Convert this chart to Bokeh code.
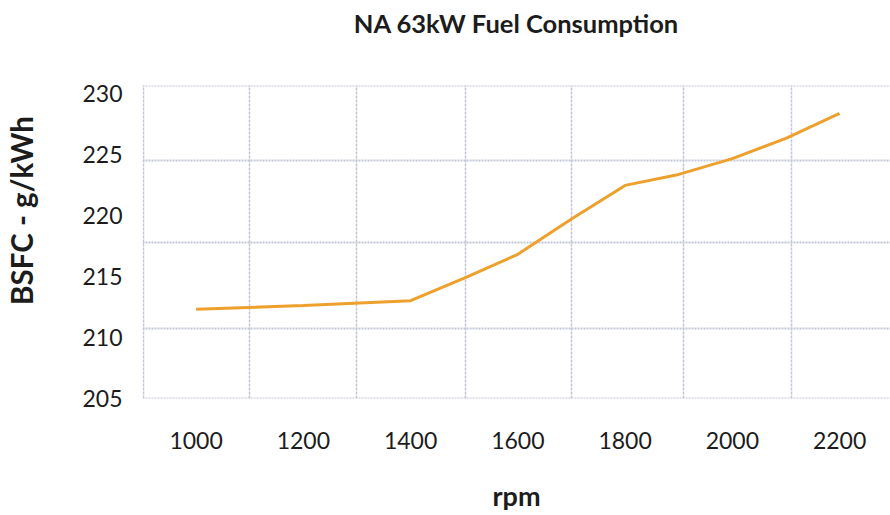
import math
from bokeh.plotting import figure
from bokeh.models import FixedTicker, Range1d, LinearAxis
from bokeh.embed import file_html
from bokeh.resources import INLINE

# ---- data ----
rpm = [1000, 1200, 1400, 1500, 1600, 1700, 1800, 1900, 2000, 2100, 2200]
bsfc = [212.3, 212.6, 213.0, 214.85, 216.8, 219.7, 222.45, 223.35, 224.65, 226.3, 228.35]
x_ticks = [1000, 1200, 1400, 1600, 1800, 2000, 2200]
x_tick_labels = ["1000", "1200", "1400", "1600", "1800", "2000", "2200"]
y_ticks = [205, 210, 215, 220, 225, 230]
y_tick_labels = ["205", "210", "215", "220", "225", "230"]

title_text = "NA 63kW Fuel Consumption"
x_label = "rpm"
y_label = "BSFC - g/kWh"

# ---- styling / layout ----
W, H = 890, 515
LEFT, TOP, BOTTOM = 142, 85, 117
X_RANGE = (900.0, 2295.0)
Y_RANGE = (204.98, 230.64)
X_GRID = [901.5, 1099, 1300, 1503, 1700, 1909, 2110]
Y_GRID = [205.02, 210.7, 217.8, 224.46, 230.6]
YLABEL_CENTER_PY = 210          # vertical centre of the y title, in pixels
GRID_COLOR = "#c3c6d4"
LINE_COLOR = "#eda12c"
TEXT_COLOR = "#1c1c1c"
FONT = "Lato"

p = figure(width=W, height=H, output_backend="svg", toolbar_location=None,
           x_range=Range1d(*X_RANGE), y_range=Range1d(*Y_RANGE),
           min_border_left=LEFT, min_border_right=0, min_border_top=TOP,
           min_border_bottom=BOTTOM)
p.outline_line_color = None
p.background_fill_color = "white"
p.border_fill_color = "white"

frame_h = H - TOP - BOTTOM
ylabel_pos = round(Y_RANGE[1] - (YLABEL_CENTER_PY - TOP) * (Y_RANGE[1] - Y_RANGE[0]) / frame_h, 2)

def plain(ax):
    ax.axis_line_color = None
    ax.major_tick_line_color = None
    ax.minor_tick_line_color = None
    ax.major_tick_in = 0
    ax.major_tick_out = 0
    ax.minor_tick_in = 0
    ax.minor_tick_out = 0

p.xaxis.ticker = FixedTicker(ticks=x_ticks)
p.xaxis.major_label_overrides = {t: l for t, l in zip(x_ticks, x_tick_labels)}
p.yaxis.ticker = FixedTicker(ticks=y_ticks)
p.yaxis.major_label_overrides = {t: l for t, l in zip(y_ticks, y_tick_labels)}

for ax in (p.xaxis[0], p.yaxis[0]):
    plain(ax)
    ax.major_label_text_font = FONT
    ax.major_label_text_font_size = "23px"
    ax.major_label_text_color = TEXT_COLOR
    ax.axis_label_text_font = FONT
    ax.axis_label_text_font_style = "bold"
    ax.axis_label_text_font_size = "27px"
    ax.axis_label_text_color = TEXT_COLOR

p.xaxis.major_label_standoff = 33
p.xaxis.axis_label = x_label
p.xaxis.axis_label_standoff = 27
p.yaxis.major_label_standoff = 20

# chart title, set as the label of a tick-less axis above the plot
top_axis = LinearAxis(ticker=FixedTicker(ticks=[]), axis_label=title_text)
plain(top_axis)
top_axis.major_label_standoff = 0
top_axis.axis_label_standoff = 48
top_axis.axis_label_text_line_height = 1.0
top_axis.axis_label_text_font = FONT
top_axis.axis_label_text_font_style = "bold"
top_axis.axis_label_text_font_size = "25.5px"
top_axis.axis_label_text_color = TEXT_COLOR
p.add_layout(top_axis, "above")

# y title: a single label, parallel to an outer left axis, centred where the picture has it
ytitle_axis = LinearAxis(ticker=FixedTicker(ticks=[ylabel_pos]),
                         major_label_overrides={ylabel_pos: y_label})
plain(ytitle_axis)
ytitle_axis.major_label_orientation = "parallel"
ytitle_axis.major_label_standoff = 40
ytitle_axis.major_label_text_line_height = 1.0
ytitle_axis.major_label_text_font = FONT
ytitle_axis.major_label_text_font_style = "bold"
ytitle_axis.major_label_text_font_size = "29.5px"
ytitle_axis.major_label_text_color = TEXT_COLOR
p.add_layout(ytitle_axis, "left")

p.xgrid.ticker = FixedTicker(ticks=X_GRID)
p.ygrid.ticker = FixedTicker(ticks=Y_GRID)
p.xgrid.grid_line_color = GRID_COLOR
p.xgrid.grid_line_width = 1.5
p.xgrid.grid_line_dash = "3 1"
p.ygrid.grid_line_color = GRID_COLOR
p.ygrid.grid_line_width = 2
p.ygrid.grid_line_dash = "2 1"

p.line(rpm, bsfc, line_color=LINE_COLOR, line_width=3)

open("out.html", "w").write(file_html(p, INLINE))
